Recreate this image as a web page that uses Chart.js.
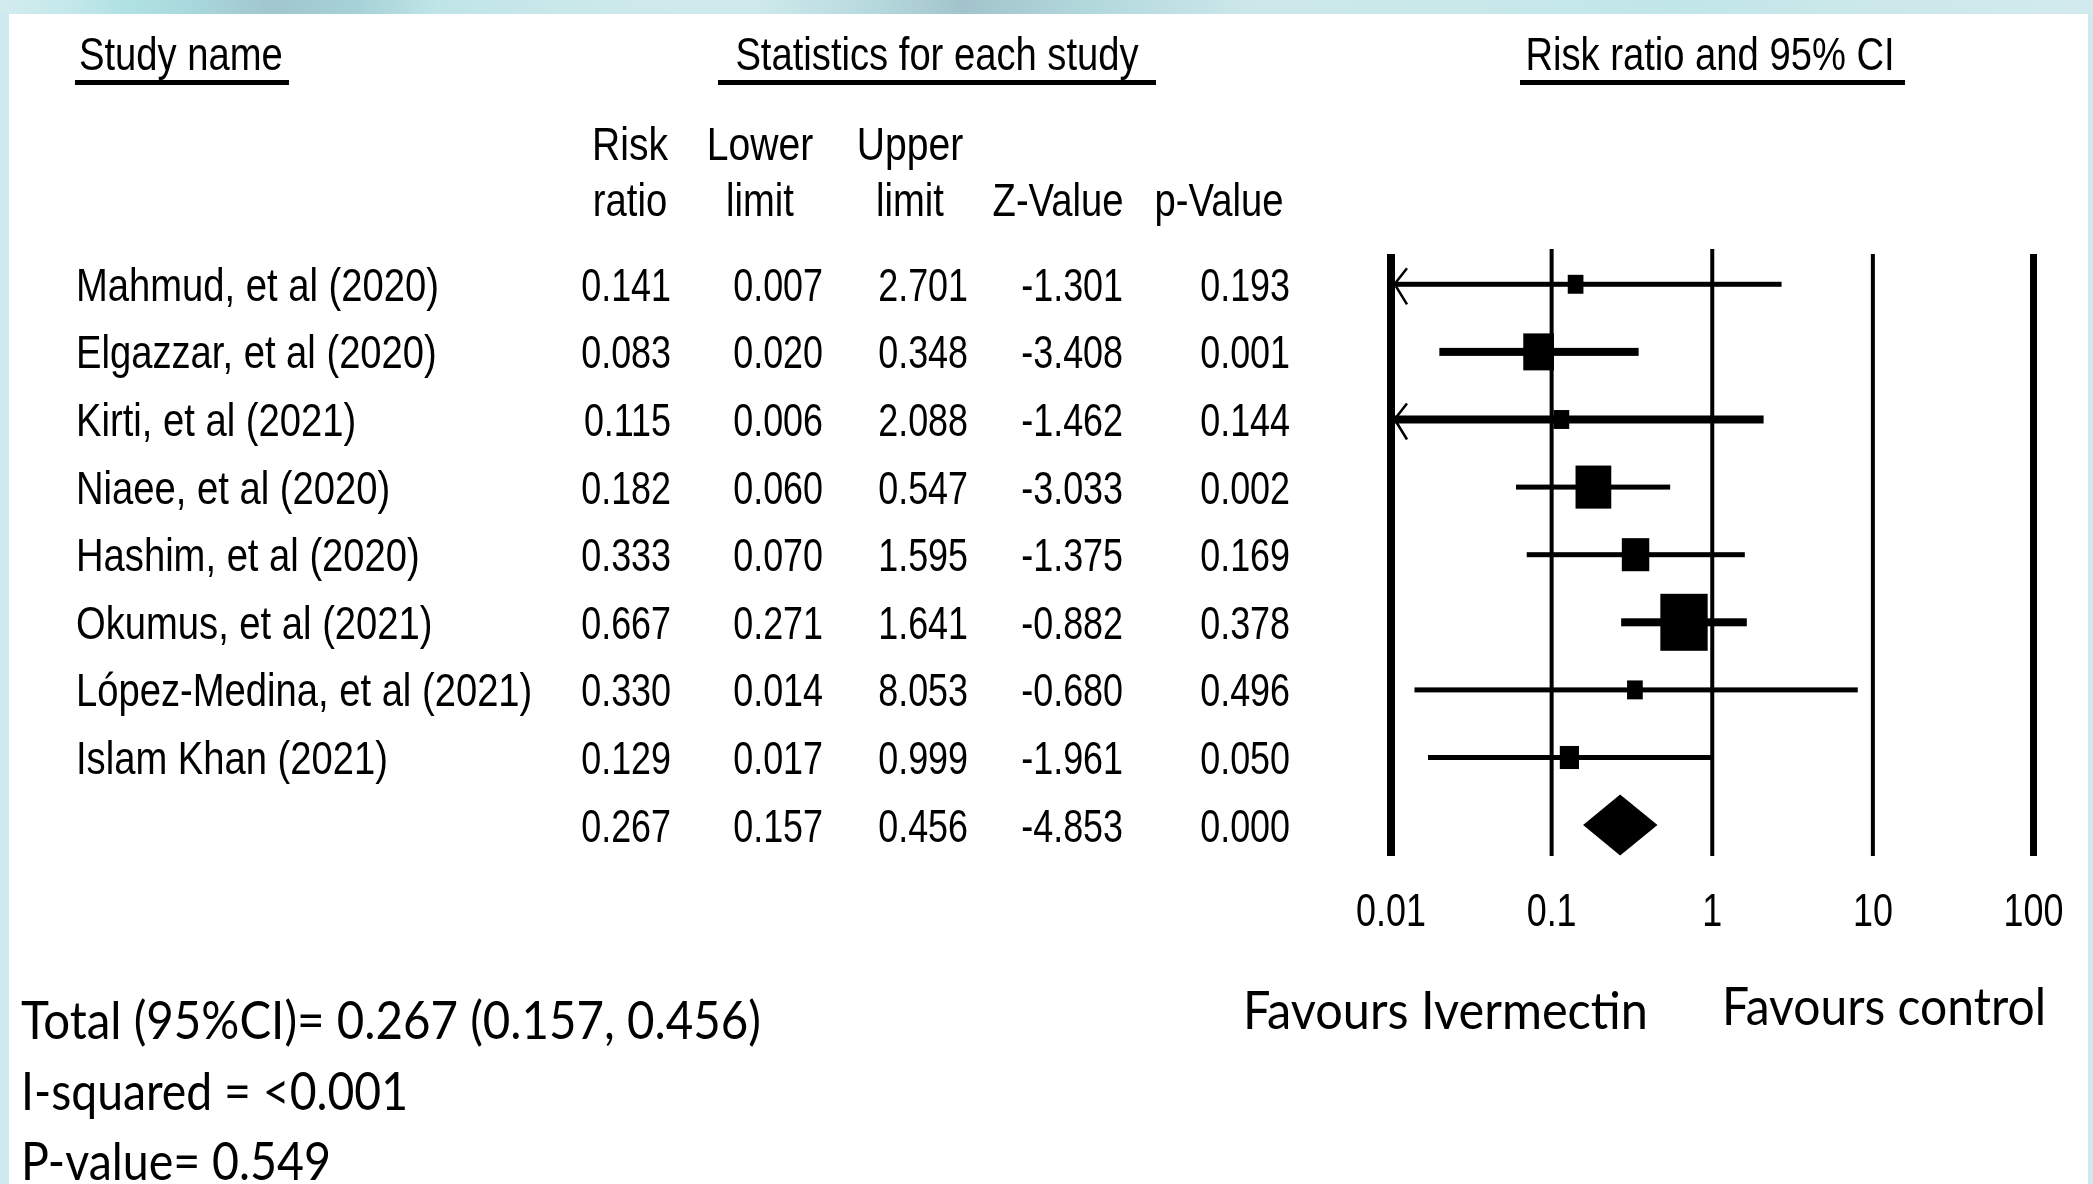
<!DOCTYPE html>
<html><head><meta charset="utf-8">
<script src="https://cdn.jsdelivr.net/npm/chart.js@4.4.1/dist/chart.umd.min.js"></script>
<style>html,body{margin:0;padding:0;background:#fff;overflow:hidden}canvas{display:block}</style>
</head><body>
<canvas id="c" width="2093" height="1184"></canvas>
<script>
// ---------------- data ----------------
const studies = ["Mahmud, et al (2020)","Elgazzar, et al (2020)","Kirti, et al (2021)","Niaee, et al (2020)","Hashim, et al (2020)","Okumus, et al (2021)","López-Medina, et al (2021)","Islam Khan (2021)"];
const riskRatio  = [0.141, 0.083, 0.115, 0.182, 0.333, 0.667, 0.330, 0.129];
const lowerLimit = [0.007, 0.020, 0.006, 0.060, 0.070, 0.271, 0.014, 0.017];
const upperLimit = [2.701, 0.348, 2.088, 0.547, 1.595, 1.641, 8.053, 0.999];
const zValue     = [-1.301, -3.408, -1.462, -3.033, -1.375, -0.882, -0.680, -1.961];
const pValue     = [0.193, 0.001, 0.144, 0.002, 0.169, 0.378, 0.496, 0.050];
const weightPct  = [3.9, 14.9, 3.9, 20.2, 11.9, 35.4, 3.9, 5.8];
const pooledRR = 0.267, pooledLower = 0.157, pooledUpper = 0.456, pooledZ = -4.853, pooledP = 0.000;
const tickValues = [0.01, 0.1, 1, 10, 100];
const tickLabels = ["0.01", "0.1", "1", "10", "100"];
const headerTop    = ["Risk", "Lower", "Upper", "", ""];
const headerBottom = ["ratio", "limit", "limit", "Z-Value", "p-Value"];
const sectionTitles = ["Study name", "Statistics for each study", "Risk ratio and 95% CI"];
const favourLabels = ["Favours Ivermectin", "Favours control"];
const footerLines = ["Total (95%CI)= 0.267 (0.157, 0.456)", "I-squared = <0.001", "P-value= 0.549"];

// ---------------- helpers ----------------
const FONT = '46px "Liberation Sans", Arial, sans-serif';
const FONT2 = '52px Lato, "Open Sans", sans-serif';
function txt(ctx, s, x, y, font, sx, align) {
  ctx.save();
  ctx.font = font; ctx.textBaseline = 'alphabetic'; ctx.textAlign = 'left';
  const w = ctx.measureText(s).width * sx;
  const x0 = align === 'right' ? x - w : align === 'center' ? x - w / 2 : x;
  ctx.translate(x0, y); ctx.scale(sx, 1); ctx.fillStyle = '#000'; ctx.fillText(s, 0, 0);
  ctx.restore();
}
function txtFit(ctx, s, x, y, font, width) {
  ctx.save(); ctx.font = font;
  const m = ctx.measureText(s).width;
  ctx.restore();
  txt(ctx, s, x, y, font, width / m, 'left');
}

const lineW = [5, 8, 8, 5, 5, 8, 5, 5];
const gridW = [8, 4, 4, 4, 7];
const gridTopOffset = [0, -5, -5, 0, 0];
const colRight = [671, 823, 968, 1123, 1290];
const headerX = [630, 760, 910, 1058, 1219];

const forestPlugin = {
  id: 'forest',
  beforeDraw(chart) {
    const ctx = chart.ctx, W = chart.width, H = chart.height;
    ctx.save();
    ctx.fillStyle = '#fff'; ctx.fillRect(0, 0, W, H);
    // frame
    const g = ctx.createLinearGradient(0, 0, W, 0);
    [[0,'#d2ecef'],[0.03,'#c6e9eb'],[0.06,'#b0e1e3'],[0.09,'#a9d9dc'],[0.13,'#a0c6ce'],[0.17,'#a6d2d7'],
     [0.21,'#c0e5e7'],[0.30,'#cde9ec'],[0.36,'#cfeaed'],[0.42,'#b5d8dc'],[0.46,'#a2c3cb'],[0.52,'#b2d8dc'],
     [0.60,'#cde8eb'],[0.70,'#c8e8ea'],[0.80,'#c1e6e8'],[0.90,'#cce8eb'],[1,'#d2eaee']].forEach(s => g.addColorStop(s[0], s[1]));
    ctx.fillStyle = g; ctx.fillRect(0, 0, W, 14);
    ctx.fillStyle = '#cfeaee'; ctx.fillRect(0, 14, 9, H - 14);
    ctx.fillStyle = '#cdeaee'; ctx.fillRect(2088, 14, 5, H - 14);

    // section titles + underlines
    txt(ctx, sectionTitles[0], 79, 70, FONT, 0.83, 'left');
    txt(ctx, sectionTitles[1], 937, 70, FONT, 0.83, 'center');
    txt(ctx, sectionTitles[2], 1710, 70, FONT, 0.83, 'center');
    ctx.fillStyle = '#000';
    ctx.fillRect(75, 80, 214, 5);
    ctx.fillRect(718, 80, 438, 5);
    ctx.fillRect(1520, 80, 385, 5);

    // column headers
    headerTop.forEach((h, i) => { if (h) txt(ctx, h, headerX[i], 160, FONT, 0.85, 'center'); });
    headerBottom.forEach((h, i) => txt(ctx, h, headerX[i], 216, FONT, 0.83, 'center'));

    // table rows
    const ys = chart.scales.y;
    const fmt = v => v.toFixed(3);
    studies.forEach((s, i) => {
      const y = ys.getPixelForValue(i) + 16.5;
      txt(ctx, s, 76, y, FONT, 0.83, 'left');
      [riskRatio[i], lowerLimit[i], upperLimit[i], zValue[i], pValue[i]].forEach((v, k) =>
        txt(ctx, fmt(v), colRight[k], y, FONT, 0.78, 'right'));
    });
    const yp = ys.getPixelForValue(studies.length) + 16.5;
    [pooledRR, pooledLower, pooledUpper, pooledZ, pooledP].forEach((v, k) =>
      txt(ctx, fmt(v), colRight[k], yp, FONT, 0.78, 'right'));

    // footer + favours
    txtFit(ctx, footerLines[0], 21, 1039, FONT2, 740);
    txtFit(ctx, footerLines[1], 21, 1110, FONT2, 387);
    txtFit(ctx, footerLines[2], 21, 1180, FONT2, 310);
    txtFit(ctx, favourLabels[0], 1243, 1029, FONT2, 405);
    txtFit(ctx, favourLabels[1], 1722, 1025, FONT2, 324);
    ctx.restore();
  },
  afterDatasetsDraw(chart) {
    const ctx = chart.ctx, xs = chart.scales.x, ys = chart.scales.y, ca = chart.chartArea;
    ctx.save();
    ctx.fillStyle = '#000'; ctx.strokeStyle = '#000';
    // vertical reference lines
    tickValues.forEach((v, i) => {
      const x = xs.getPixelForValue(v);
      const top = ca.top + gridTopOffset[i];
      ctx.fillRect(x - gridW[i] / 2, top, gridW[i], ca.bottom - top);
    });
    // CI lines, arrows, boxes
    studies.forEach((s, i) => {
      const y = ys.getPixelForValue(i);
      const lo = Math.max(lowerLimit[i], xs.min), hi = Math.min(upperLimit[i], xs.max);
      const x1 = xs.getPixelForValue(lo), x2 = xs.getPixelForValue(hi);
      ctx.fillRect(x1, y - lineW[i] / 2, x2 - x1, lineW[i]);
      if (lowerLimit[i] < xs.min) {
        const ax = x1 + 5;
        ctx.lineWidth = 2.5;
        ctx.beginPath();
        ctx.moveTo(ax, y - 2); ctx.lineTo(ax + 11, y - 16);
        ctx.moveTo(ax, y + 2); ctx.lineTo(ax + 11, y + 20);
        ctx.stroke();
      }
      const h = 9.58 * Math.sqrt(weightPct[i]);
      const w = h * 0.83;
      const xc = xs.getPixelForValue(riskRatio[i]);
      ctx.fillRect(xc - w / 2, y - h / 2, w, h);
    });
    // pooled diamond
    const yd = ys.getPixelForValue(studies.length);
    ctx.beginPath();
    ctx.moveTo(xs.getPixelForValue(pooledLower), yd);
    ctx.lineTo(xs.getPixelForValue(pooledRR), yd - 30.5);
    ctx.lineTo(xs.getPixelForValue(pooledUpper), yd);
    ctx.lineTo(xs.getPixelForValue(pooledRR), yd + 30.5);
    ctx.closePath(); ctx.fill();
    // tick labels
    tickValues.forEach((v, i) => txt(ctx, tickLabels[i], xs.getPixelForValue(v), 926, FONT, 0.78, 'center'));
    ctx.restore();
  }
};

new Chart(document.getElementById('c'), {
  type: 'scatter',
  data: {
    datasets: [{
      label: 'Risk ratio',
      data: riskRatio.map((v, i) => ({ x: v, y: i })),
      pointRadius: 0, pointHoverRadius: 0, showLine: false
    }]
  },
  options: {
    responsive: false, animation: false, devicePixelRatio: 1,
    layout: { padding: { left: 1391, right: 59.5, top: 254, bottom: 328 } },
    scales: {
      x: { type: 'logarithmic', min: 0.01, max: 100, display: false },
      y: { type: 'linear', min: -0.448, max: 8.457, reverse: true, display: false }
    },
    plugins: { legend: { display: false }, tooltip: { enabled: false } }
  },
  plugins: [forestPlugin]
});
</script>
</body></html>
